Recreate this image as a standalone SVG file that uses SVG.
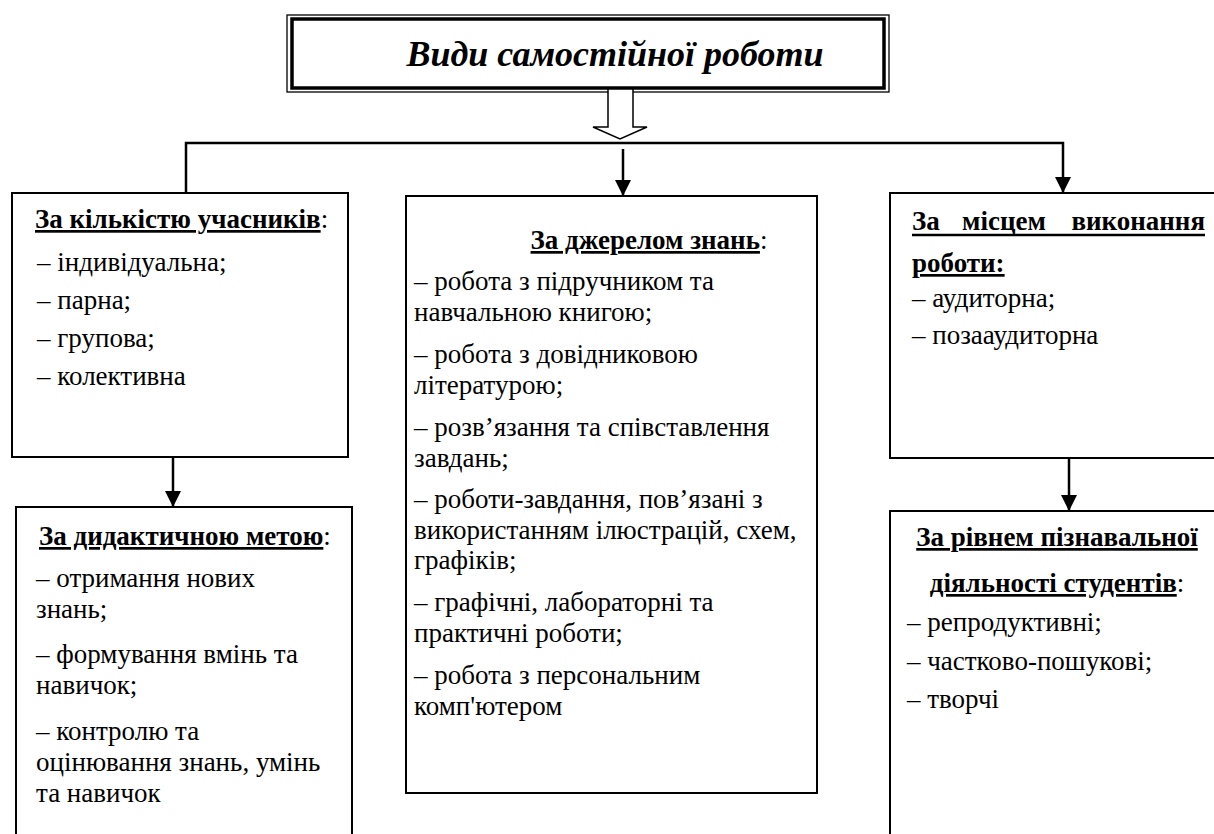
<svg xmlns="http://www.w3.org/2000/svg" width="1214" height="834" viewBox="0 0 1214 834">
<defs>
<style>
text{font-family:'Liberation Serif','Times New Roman',Times,Tinos,'Noto Serif','DejaVu Serif',serif;font-size:27px;fill:#000}
.h{font-weight:bold;text-decoration:underline}
.box{fill:#fff;stroke:#000;stroke-width:2}
.con{fill:none;stroke:#000;stroke-width:2.5}
.ul{stroke:#000;stroke-width:2.5}
.ttl{font-size:36px;font-weight:bold;font-style:italic}
</style>
<marker id="ah" markerWidth="16" markerHeight="16" refX="16" refY="8" orient="auto" markerUnits="userSpaceOnUse">
<path d="M0,0 L16,8 L0,16 z" fill="#000"/>
</marker>
</defs>
<rect width="1214" height="834" fill="#fff"/>

<g id="title">
<rect x="287" y="15" width="602" height="77" fill="#fff" stroke="#000" stroke-width="1.3"/>
<rect x="292" y="19" width="592" height="69" fill="none" stroke="#000" stroke-width="3.5"/>
<text class="ttl" x="615" y="66" text-anchor="middle">Види самостійної роботи</text>
</g>

<g id="connectors">
<polygon points="608,89 633,89 633,127 647,127 620,139 593,127 608,127" fill="#fff" stroke="#000" stroke-width="1.5"/>
<path class="con" d="M186,193 V143 H1063 V193" marker-start="url(#ah)" marker-end="url(#ah)"/>
<path class="con" d="M623,149 V196" marker-end="url(#ah)"/>
<path class="con" d="M173,457 V507" marker-end="url(#ah)"/>
<path class="con" d="M1069,458 V511" marker-end="url(#ah)"/>
</g>

<g id="box-participants">
<rect class="box" x="12" y="193" width="336" height="264"/>
<text x="35" y="228"><tspan class="h">За кількістю учасників</tspan>:</text>
<text x="37" y="271">–  індивідуальна;</text>
<text x="37" y="309">–  парна;</text>
<text x="37" y="347">–  групова;</text>
<text x="37" y="385">–  колективна</text>
</g>

<g id="box-source">
<rect class="box" x="406" y="196" width="411" height="597"/>
<text x="649" y="249" text-anchor="middle"><tspan class="h">За джерелом знань</tspan>:</text>
<text x="414" y="290">– робота з підручником та</text>
<text x="414" y="321">навчальною книгою;</text>
<text x="414" y="363">– робота з довідниковою</text>
<text x="414" y="394">літературою;</text>
<text x="414" y="436">– розв’язання та співставлення</text>
<text x="414" y="467">завдань;</text>
<text x="414" y="508">– роботи-завдання, пов’язані з</text>
<text x="414" y="539">використанням ілюстрацій, схем,</text>
<text x="414" y="569">графіків;</text>
<text x="414" y="611">– графічні, лабораторні та</text>
<text x="414" y="642">практичні роботи;</text>
<text x="414" y="684">– робота з персональним</text>
<text x="414" y="715">комп'ютером</text>
</g>

<g id="box-place">
<rect class="box" x="890" y="193" width="400" height="265"/>
<text x="912" y="230" font-weight="bold">За</text>
<text x="962" y="230" font-weight="bold">місцем</text>
<text x="1205" y="230" font-weight="bold" text-anchor="end">виконання</text>
<line class="ul" x1="912" y1="235" x2="1205" y2="235"/>
<text x="912" y="272"><tspan class="h">роботи:</tspan></text>
<text x="912" y="307">– аудиторна;</text>
<text x="912" y="344">– позааудиторна</text>
</g>

<g id="box-didactic">
<rect class="box" x="16" y="507" width="336" height="400"/>
<text x="39" y="545"><tspan class="h">За дидактичною метою</tspan>:</text>
<text x="36" y="587">–  отримання нових</text>
<text x="36" y="618">знань;</text>
<text x="36" y="663">– формування вмінь та</text>
<text x="36" y="694">навичок;</text>
<text x="36" y="740">– контролю та</text>
<text x="36" y="771">оцінювання знань, умінь</text>
<text x="36" y="802">та навичок</text>
</g>

<g id="box-level">
<rect class="box" x="890" y="511" width="400" height="400"/>
<text x="1057" y="546" text-anchor="middle"><tspan class="h">За рівнем пізнавальної</tspan></text>
<text x="1057" y="592" text-anchor="middle"><tspan class="h">діяльності студентів</tspan>:</text>
<text x="907" y="631">– репродуктивні;</text>
<text x="907" y="670">– частково-пошукові;</text>
<text x="907" y="708">– творчі</text>
</g>
</svg>
